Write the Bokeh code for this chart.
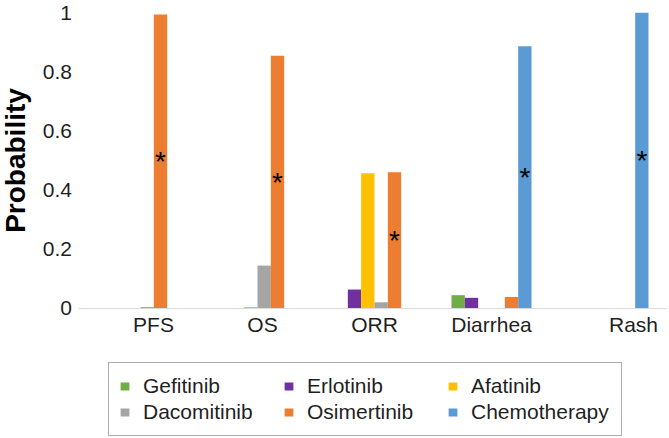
import math
from bokeh.plotting import figure
from bokeh.models import (ColumnDataSource, Range1d, Legend, LegendItem, Label,
                          FixedTicker, NumeralTickFormatter)
from bokeh.transform import dodge
from bokeh.core.properties import value
from bokeh.embed import file_html
from bokeh.resources import INLINE

# ---------------- data ----------------
categories = ["PFS", "OS", "ORR", "Diarrhea", "Rash"]
series_names = ["Gefitinib", "Erlotinib", "Afatinib", "Dacomitinib", "Osimertinib", "Chemotherapy"]
gefitinib = [0.0, 0.0, 0.0, 0.045, 0.0]
erlotinib = [0.0, 0.0, 0.064, 0.036, 0.0]
afatinib = [0.0, 0.005, 0.457, 0.0, 0.0]
dacomitinib = [0.005, 0.145, 0.021, 0.0, 0.0]
osimertinib = [0.993, 0.854, 0.46, 0.039, 0.0]
chemotherapy = [0.0, 0.0, 0.0, 0.886, 0.999]
y_ticks = [0, 0.2, 0.4, 0.6, 0.8, 1]
# best treatment (marked with an asterisk) per outcome
star_categories = ["PFS", "OS", "ORR", "Diarrhea", "Rash"]
star_series = ["Osimertinib", "Osimertinib", "Osimertinib", "Chemotherapy", "Chemotherapy"]

# ---------------- styles ----------------
colors = ["#70AD47", "#7030A0", "#FFC000", "#A5A5A5", "#ED7D31", "#5B9BD5"]
FONT = "Liberation Sans"
TEXT_COLOR = "#1f1f1f"
bar_w = 0.114
W, H = 669, 438
SLOT_PX = 117                      # pixel width of one category slot
label_nudge_px = [13, 5, 0, 0, 25]  # horizontal nudge of each category label (as in the original)
n = len(categories)

values = dict(zip(series_names, [gefitinib, erlotinib, afatinib, dacomitinib, osimertinib, chemotherapy]))
data = {"idx": list(range(n)), "cat": categories}
data.update(values)
source = ColumnDataSource(data)

# the frame fills the whole canvas; category slots are 1 unit wide,
# the value axis 0..1 occupies the upper part, labels and legend sit below it
p = figure(
    x_range=Range1d(-1.1966, 4.5214),
    y_range=Range1d(-0.4392, 1.0405),
    width=W, height=H,
    output_backend="svg", toolbar_location=None,
    min_border_left=0, min_border_right=0, min_border_top=0, min_border_bottom=0,
)
p.outline_line_color = None
p.background_fill_color = "white"
p.border_fill_color = "white"
p.xgrid.visible = False
p.ygrid.visible = False

renderers = []
for i, name in enumerate(series_names):
    off = (i - 2.5) * bar_w
    r = p.vbar(x=dodge("idx", off), top=name, width=bar_w,
               source=source, fill_color=colors[i], line_color=None)
    renderers.append(r)

# asterisks at the mid-height of the best bar
for i, name in enumerate(series_names):
    cats = [c for c, s in zip(star_categories, star_series) if s == name]
    if not cats:
        continue
    idxs = [categories.index(c) for c in cats]
    ys = [values[name][k] / 2 for k in idxs]
    ssrc = ColumnDataSource(dict(idx=idxs, y=ys, t=["*"] * len(cats)))
    p.text(x=dodge("idx", (i - 2.5) * bar_w), y="y", text="t", source=ssrc,
           text_font=value(FONT), text_font_size="28px", text_color="black",
           text_align="center", text_baseline="alphabetic", y_offset=0)

# category axis, drawn along y = 0
label_pos = [round(k + d / SLOT_PX, 3) for k, d in zip(range(n), label_nudge_px)]
xa = p.xaxis[0]
xa.fixed_location = 0
xa.bounds = (-0.53, n - 0.5)
xa.ticker = FixedTicker(ticks=label_pos)
xa.major_label_overrides = {pos: c for pos, c in zip(label_pos, categories)}
xa.axis_line_color = "#D9D9D9"
xa.axis_line_width = 1
xa.major_tick_line_color = None
xa.minor_tick_line_color = None
xa.major_tick_out = 0
xa.major_tick_in = 0
xa.major_label_text_font = FONT
xa.major_label_text_font_size = "21px"
xa.major_label_text_color = TEXT_COLOR
xa.major_label_standoff = 5

# value axis, drawn at the left edge of the first category slot
ya = p.yaxis[0]
ya.fixed_location = -0.5
ya.ticker = FixedTicker(ticks=y_ticks)
ya.formatter = NumeralTickFormatter(format="0.[0]")
ya.axis_line_color = None
ya.major_tick_line_color = None
ya.minor_tick_line_color = None
ya.major_tick_out = 0
ya.major_tick_in = 0
ya.major_label_text_font = FONT
ya.major_label_text_font_size = "21px"
ya.major_label_text_color = TEXT_COLOR
ya.major_label_standoff = 10

ytitle = Label(text="Probability", x=15, x_units="screen", y=0.5, y_units="data",
               angle=math.pi / 2, text_align="center", text_baseline="middle",
               text_font=FONT, text_font_size="28px", text_font_style="bold", text_color="black")
p.add_layout(ytitle)

# legend
items = [LegendItem(label=nm, renderers=[r]) for nm, r in zip(series_names, renderers)]
legend = Legend(items=items, location=(108, 2), orientation="horizontal", ncols=3)
legend.label_text_font = FONT
legend.label_text_font_size = "21px"
legend.label_text_color = TEXT_COLOR
legend.glyph_width = 11
legend.glyph_height = 10
legend.label_standoff = 13
legend.label_width = 140
legend.label_height = 26
legend.spacing = 0
legend.padding = 10
legend.margin = 0
legend.border_line_color = "#595959"
legend.border_line_width = 1
legend.background_fill_color = "white"
legend.background_fill_alpha = 1
p.add_layout(legend)

open("out.html", "w").write(file_html(p, INLINE))
